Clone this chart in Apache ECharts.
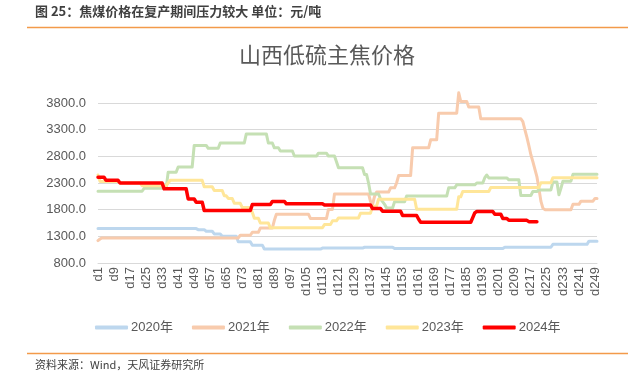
<!DOCTYPE html>
<html><head><meta charset="utf-8">
<script src="https://cdn.jsdelivr.net/npm/echarts@6/dist/echarts.min.js"></script>
<style>html,body{margin:0;padding:0;background:#fff}#c{width:634px;height:375px}</style>
</head><body><div id="c"></div>
<script>
const categories = [];
for (let i = 1; i <= 250; i++) categories.push('d' + i);
const seriesNames = ['2020年','2021年','2022年','2023年','2024年'];
const yTicks = [800, 1300, 1800, 2300, 2800, 3300, 3800];

const y2020 = [
1445,1445,1445,1445,1445,1445,1445,1445,1445,1445,
1445,1445,1445,1445,1445,1445,1445,1445,1445,1445,
1445,1445,1445,1445,1445,1445,1445,1445,1445,1445,
1445,1445,1445,1445,1445,1445,1445,1445,1445,1445,
1445,1445,1445,1445,1445,1445,1445,1445,1445,1445,
1425,1425,1425,1425,1395,1395,1395,1395,1345,1345,
1345,1345,1300,1300,1300,1300,1300,1300,1300,1300,
1200,1200,1200,1200,1200,1200,1200,1135,1135,1135,
1135,1135,1135,1062,1062,1062,1062,1062,1062,1062,
1062,1062,1062,1062,1062,1062,1062,1062,1062,1062,
1062,1062,1062,1062,1062,1062,1062,1062,1062,1062,
1062,1062,1080,1080,1080,1080,1080,1080,1080,1080,
1080,1080,1080,1080,1080,1080,1080,1080,1080,1080,
1080,1080,1080,1095,1095,1095,1095,1095,1095,1095,
1095,1095,1095,1095,1095,1095,1095,1095,1070,1070,
1070,1070,1070,1070,1070,1070,1070,1070,1070,1070,
1070,1070,1070,1070,1070,1070,1070,1070,1070,1070,
1070,1070,1070,1070,1070,1070,1070,1070,1070,1070,
1070,1070,1070,1070,1070,1070,1070,1070,1070,1070,
1070,1070,1070,1070,1070,1070,1070,1070,1070,1070,
1070,1070,1070,1095,1095,1095,1095,1095,1095,1095,
1095,1095,1095,1095,1095,1095,1095,1095,1095,1095,
1095,1095,1095,1095,1095,1095,1095,1150,1150,1150,
1150,1150,1150,1150,1150,1150,1150,1150,1150,1150,
1150,1150,1150,1150,1150,1210,1210,1210,1210,1210
];

const y2021 = [
1220,1250,1270,1270,1270,1270,1270,1270,1270,1270,
1270,1270,1270,1270,1270,1270,1270,1270,1270,1270,
1270,1270,1270,1270,1270,1270,1270,1270,1270,1270,
1270,1270,1270,1270,1270,1270,1270,1270,1270,1270,
1270,1270,1270,1270,1270,1270,1270,1270,1270,1270,
1270,1270,1270,1270,1270,1270,1270,1270,1270,1270,
1270,1270,1270,1270,1270,1270,1270,1270,1270,1270,
1270,1320,1320,1320,1320,1320,1320,1375,1375,1375,
1375,1455,1455,1455,1455,1455,1455,1455,1600,1715,
1715,1715,1715,1715,1715,1715,1715,1715,1715,1715,
1715,1715,1715,1715,1715,1715,1635,1635,1635,1635,
1635,1635,1635,1635,1635,1805,1805,1805,2095,2095,
2095,2095,2095,2095,2095,2095,2095,2095,2095,2095,
2095,2095,2095,2095,2095,2095,1950,1900,2050,2130,
2130,2130,2130,2130,2130,2130,2210,2210,2210,2300,
2440,2440,2440,2440,2440,2440,2440,2960,2960,2960,
2960,2960,2960,2960,2960,2960,3110,3110,3110,3110,
3610,3610,3610,3610,3610,3610,3610,3610,3610,3610,
3990,3830,3830,3830,3830,3725,3725,3725,3725,3725,
3725,3505,3505,3505,3505,3505,3505,3505,3505,3505,
3505,3505,3505,3505,3505,3505,3505,3505,3505,3505,
3505,3505,3450,3300,3160,3000,2830,2700,2560,2420,
2200,1960,1830,1800,1800,1800,1800,1800,1800,1800,
1800,1800,1800,1800,1800,1800,1800,1900,1900,1900,
1900,1960,1960,1960,1960,1960,1960,1960,2010,2010
];

const y2022 = [
2145,2145,2145,2145,2145,2145,2145,2145,2145,2145,
2145,2145,2145,2145,2145,2145,2145,2145,2145,2145,
2145,2145,2145,2200,2200,2200,2200,2200,2200,2200,
2200,2200,2200,2200,2200,2500,2500,2500,2500,2500,
2600,2600,2600,2600,2600,2600,2600,2600,3005,3005,
3005,3005,3005,3005,3005,2950,2950,2950,2950,2950,
2950,3050,3050,3050,3050,3050,3050,3050,3050,3050,
3050,3050,3050,3050,3220,3220,3220,3220,3220,3220,
3220,3220,3220,3220,3220,3050,3050,3050,2960,2960,
2960,2900,2900,2900,2900,2900,2900,2900,2805,2805,
2805,2805,2805,2805,2805,2805,2805,2805,2805,2805,
2860,2860,2860,2860,2860,2805,2805,2805,2805,2700,
2585,2585,2585,2585,2585,2585,2585,2585,2585,2585,
2585,2585,2585,2460,2460,2300,2095,2095,2095,2095,
2095,2000,1950,1900,1830,1830,1830,1830,1950,1950,
1950,1950,1950,1950,2055,2055,2055,2055,2055,2055,
2055,2055,2055,2055,2055,2055,2055,2055,2055,2055,
2055,2055,2055,2055,2055,2210,2210,2210,2210,2265,
2265,2265,2265,2265,2265,2265,2265,2265,2265,2300,
2300,2300,2300,2400,2450,2395,2395,2395,2395,2395,
2395,2395,2395,2395,2395,2360,2360,2360,2360,2360,
2360,2065,2065,2065,2065,2065,2065,2140,2140,2140,
2170,2170,2170,2170,2170,2170,2170,2320,2320,2320,
2080,2200,2335,2335,2335,2335,2335,2462,2462,2462,
2462,2462,2462,2462,2462,2462,2462,2462,2462,2462
];

const y2023 = [
2450,2330,2330,2330,2330,2330,2330,2330,2330,2330,
2330,2300,2300,2300,2300,2300,2300,2300,2300,2300,
2300,2300,2250,2250,2250,2250,2250,2250,2250,2250,
2250,2250,2250,2250,2250,2300,2350,2350,2350,2350,
2350,2350,2350,2350,2350,2350,2350,2350,2350,2350,
2350,2350,2350,2230,2230,2230,2230,2230,2160,2160,
2160,2160,2160,2060,2060,2010,2010,2010,1920,1920,
1920,1920,1840,1840,1840,1840,1840,1750,1640,1640,
1640,1550,1550,1550,1550,1550,1460,1460,1460,1460,
1460,1460,1460,1460,1460,1460,1460,1460,1460,1460,
1460,1460,1460,1460,1460,1460,1460,1460,1460,1460,
1460,1460,1460,1520,1520,1520,1520,1590,1590,1590,
1645,1645,1645,1645,1645,1645,1645,1645,1645,1645,
1645,1735,1735,1735,1735,1735,1735,1865,1865,1865,
1995,1995,1995,1995,1995,1995,1995,1995,1995,1995,
1995,1995,1995,1995,1995,1995,1995,1995,1995,1810,
1810,1810,1810,1810,1810,1810,1810,1810,1810,1810,
1810,1810,1810,1810,1810,1810,1810,1810,1810,1810,
2040,2040,2140,2140,2140,2140,2140,2140,2140,2140,
2140,2140,2140,2140,2140,2140,2215,2215,2215,2215,
2215,2215,2215,2215,2215,2215,2215,2215,2215,2215,
2215,2215,2215,2215,2215,2215,2215,2215,2215,2215,
2215,2305,2305,2305,2305,2305,2305,2400,2400,2400,
2400,2400,2400,2400,2400,2400,2400,2400,2400,2400,
2400,2400,2400,2400,2400,2400,2400,2400,2400,2400
];

const y2024 = [
2410,2410,2410,2410,2350,2350,2350,2350,2350,2350,
2350,2300,2300,2300,2300,2300,2300,2300,2300,2300,
2300,2300,2300,2300,2300,2300,2300,2300,2300,2300,
2300,2300,2300,2190,2190,2190,2190,2190,2190,2190,
2190,2190,2190,2190,2190,2000,2000,2000,2000,1940,
1940,1940,1940,1785,1785,1785,1785,1785,1785,1785,
1785,1785,1785,1785,1785,1785,1785,1785,1785,1785,
1785,1785,1785,1785,1785,1785,1785,1895,1895,1895,
1895,1895,1895,1895,1895,1895,1895,1955,1955,1955,
1955,1955,1955,1955,1910,1910,1910,1910,1910,1910,
1910,1910,1910,1910,1910,1910,1910,1910,1910,1910,
1910,1910,1910,1888,1888,1888,1888,1888,1888,1888,
1888,1888,1888,1888,1888,1888,1888,1888,1888,1888,
1888,1888,1888,1888,1888,1888,1888,1820,1820,1820,
1820,1820,1770,1770,1770,1770,1770,1770,1770,1770,
1770,1770,1690,1690,1690,1690,1690,1690,1690,1690,
1620,1565,1565,1565,1565,1565,1565,1565,1565,1565,
1565,1565,1565,1565,1565,1565,1565,1565,1565,1565,
1565,1565,1565,1565,1565,1565,1565,1650,1740,1765,
1765,1765,1765,1765,1765,1765,1765,1765,1715,1715,
1715,1715,1635,1635,1635,1600,1600,1600,1600,1600,
1600,1600,1600,1600,1600,1575,1575,1575,1575,1575,
null,null,null,null,null,null,null,null,null,null,
null,null,null,null,null,null,null,null,null,null,
null,null,null,null,null,null,null,null,null,null
];

const seriesData = [y2020, y2021, y2022, y2023, y2024];
const colors = ['#BDD7EE', '#F8CBAD', '#C5E0B4', '#FFE699', '#FF0000'];
const widths = [3, 3, 3, 3, 3.5];

const chart = echarts.init(document.getElementById('c'));
const font = '"Noto Sans CJK SC", "Liberation Sans", Arial, sans-serif';
chart.setOption({
  animation: false,
  backgroundColor: '#fff',
  textStyle: { fontFamily: font },
  graphic: [
    { type: 'text', left: 35, top: 5, style: { text: '图 25：焦煤价格在复产期间压力较大 单位：元/吨', fontSize: 13, fontWeight: 'bold', fill: '#404040', fontFamily: font } },
    { type: 'line', shape: { x1: 27, y1: 27.5, x2: 628, y2: 27.5 }, style: { stroke: '#F39A4A', lineWidth: 1.5 } },
    { type: 'text', x: 327, y: 55, style: { text: '山西低硫主焦价格', fontSize: 22, fill: '#595959', textAlign: 'center', textVerticalAlign: 'middle', fontFamily: font } },
    { type: 'line', shape: { x1: 27, y1: 353.5, x2: 628, y2: 353.5 }, style: { stroke: '#F39A4A', lineWidth: 1.5 } },
    { type: 'text', left: 35, top: 359, style: { text: '资料来源：Wind，天风证券研究所', fontSize: 11, fill: '#404040', fontFamily: font } }
  ],
  legend: {
    data: seriesNames,
    left: 90, top: 316,
    icon: 'roundRect',
    itemWidth: 33, itemHeight: 4, itemGap: 19,
    textStyle: { fontSize: 13, color: '#595959', fontFamily: '"Liberation Sans", "Noto Sans CJK SC", sans-serif', padding: [0, 0, 0, -2] }
  },
  grid: { left: 98, right: 37, top: 103, bottom: 112 },
  xAxis: {
    type: 'category',
    data: categories,
    boundaryGap: false,
    axisLine: { show: true, lineStyle: { color: '#D9D9D9' } },
    axisTick: { show: false },
    axisLabel: { interval: 7, rotate: 90, fontSize: 13, color: '#595959', margin: 4, fontFamily: '"Liberation Sans", Arial, sans-serif' },
    splitLine: { show: false }
  },
  yAxis: {
    type: 'value',
    min: yTicks[0], max: yTicks[yTicks.length - 1], interval: 500,
    axisLine: { show: false },
    axisTick: { show: false },
    axisLabel: { fontSize: 13, color: '#595959', margin: 12, formatter: v => v.toFixed(1), fontFamily: '"Liberation Sans", Arial, sans-serif' },
    splitLine: { lineStyle: { color: '#D9D9D9', width: 1 } }
  },
  series: seriesNames.map((n, k) => ({
    name: n,
    type: 'line',
    data: seriesData[k],
    showSymbol: false,
    symbol: 'none',
    clip: false,
    connectNulls: false,
    itemStyle: { color: colors[k] },
    lineStyle: { color: colors[k], width: widths[k], cap: 'round', join: 'round' },
    z: 2 + k
  }))
});
</script></body></html>
